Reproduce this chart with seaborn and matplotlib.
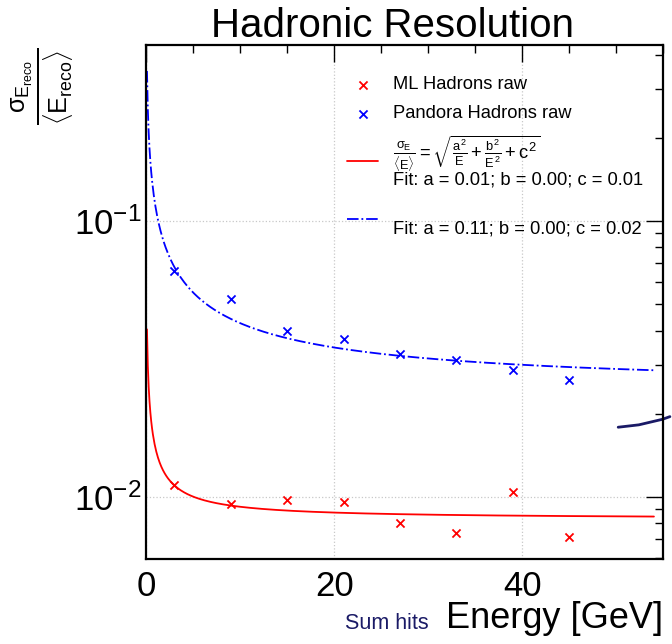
import numpy as np
import pandas as pd
import matplotlib
matplotlib.use("Agg")
import matplotlib.pyplot as plt
import seaborn as sns

# Beam energies of the test samples [GeV]
energy = [3, 9, 15, 21, 27, 33, 39, 45]
# Relative resolution sigma/<E> per energy point
ml_raw = [0.01102, 0.00941, 0.00973, 0.00957, 0.00803, 0.00739, 0.0104, 0.00714]
pandora_raw = [0.0657, 0.0520, 0.0398, 0.0373, 0.0329, 0.0313, 0.0288, 0.0265]

# Fitted resolution parameters (a, b, c)
ml_fit = (0.0125, 0.0, 0.0083)
pandora_fit = (0.110, 0.0, 0.0245)

# Stray "Sum hits" curve leaking in from the right
sumhits_energy = [50.2, 52.4, 54.9, 55.7]
sumhits_res = [0.01785, 0.01821, 0.01907, 0.01950]

sns.set_theme(style="white")
plt.rcParams.update({
    "font.family": ["Liberation Sans", "DejaVu Sans"],
    "mathtext.fontset": "custom",
    "mathtext.rm": "Liberation Sans",
    "mathtext.it": "Liberation Sans",
    "mathtext.bf": "Liberation Sans:bold",
    "text.color": "black",
    "axes.labelcolor": "black",
    "xtick.color": "black",
    "ytick.color": "black",
    "axes.edgecolor": "black",
    "axes.linewidth": 1.6,
})


def resolution(e, a, b, c):
    e = np.asarray(e, dtype=float)
    return np.sqrt(a**2 / e + b**2 / e**2 + c**2)


e_fit = np.linspace(0.1, 54, 600)
points = pd.DataFrame({"energy": energy, "ml": ml_raw, "pandora": pandora_raw})
curves = pd.DataFrame({
    "energy": e_fit,
    "ml": resolution(e_fit, *ml_fit),
    "pandora": resolution(e_fit, *pandora_fit),
})

fig = plt.figure(figsize=(6.72, 6.44), dpi=100)
ax = fig.add_axes([0.2173, 0.1315, 0.7698, 0.7986])

sns.scatterplot(data=points, x="energy", y="ml", marker="x", color="#ff0000",
                s=34, linewidth=1.3, ax=ax, label="ML Hadrons raw", zorder=3)
sns.scatterplot(data=points, x="energy", y="pandora", marker="x", color="#0000ff",
                s=34, linewidth=1.3, ax=ax, label="Pandora Hadrons raw", zorder=3)

formula = r"$\frac{\sigma_E}{\langle E\rangle} = \sqrt{\frac{a^2}{E} + \frac{b^2}{E^2} + c^2}$"
ml_label = formula + "\nFit: a = {:.2f}; b = {:.2f}; c = {:.2f}".format(*ml_fit)
pandora_label = "\nFit: a = {:.2f}; b = {:.2f}; c = {:.2f}".format(*pandora_fit)

sns.lineplot(data=curves, x="energy", y="ml", color="#ff0000", lw=1.3, ax=ax,
             label=ml_label)
sns.lineplot(data=curves, x="energy", y="pandora", color="#0000ff", lw=1.3,
             linestyle="-.", ax=ax, label=pandora_label)

sns.lineplot(x=sumhits_energy, y=sumhits_res, color="#1a1a66", lw=2.0, ax=ax,
             clip_on=False, legend=False)

ax.set_yscale("log")
ax.set_xlim(0, 55)
ax.set_ylim(0.00593, 0.433)
ax.set_xticks([0, 20, 40])
ax.xaxis.set_minor_locator(matplotlib.ticker.MultipleLocator(5))

ax.tick_params(which="both", direction="in", top=True, right=True,
               labelsize=25, width=1.0)
ax.tick_params(which="major", length=12)
ax.tick_params(which="minor", length=6)
ax.tick_params(axis="x", which="major", pad=8)
ax.tick_params(axis="y", which="major", pad=3)
ax.grid(True, which="major", linestyle=":", color="#c8c8c8", linewidth=0.9)

ax.set_title("Hadronic Resolution", fontsize=29, pad=6, x=0.4755)
ax.set_xlabel("Energy [GeV]", fontsize=26, loc="right", labelpad=-2)
ax.set_ylabel(r"$\frac{\sigma_{E_{\rm reco}}}{\langle E_{\rm reco}\rangle}$",
              fontsize=26)
ax.yaxis.set_label_coords(-0.201, 0.920)
ax.yaxis.label.set(ha="center", va="center", rotation_mode="anchor")

fig.text(0.513, 1 - 629 / 644, "Sum hits", color="#1a1a66", fontsize=15.5,
         ha="left", va="baseline")

leg = ax.legend(loc="upper right", bbox_to_anchor=(0.993, 0.971), frameon=False,
                fontsize=13.2, handlelength=1.7, handletextpad=0.8,
                labelspacing=0.65)
leg.get_texts()[2].set_linespacing(0.85)

fig.savefig("out.png", dpi=100)
